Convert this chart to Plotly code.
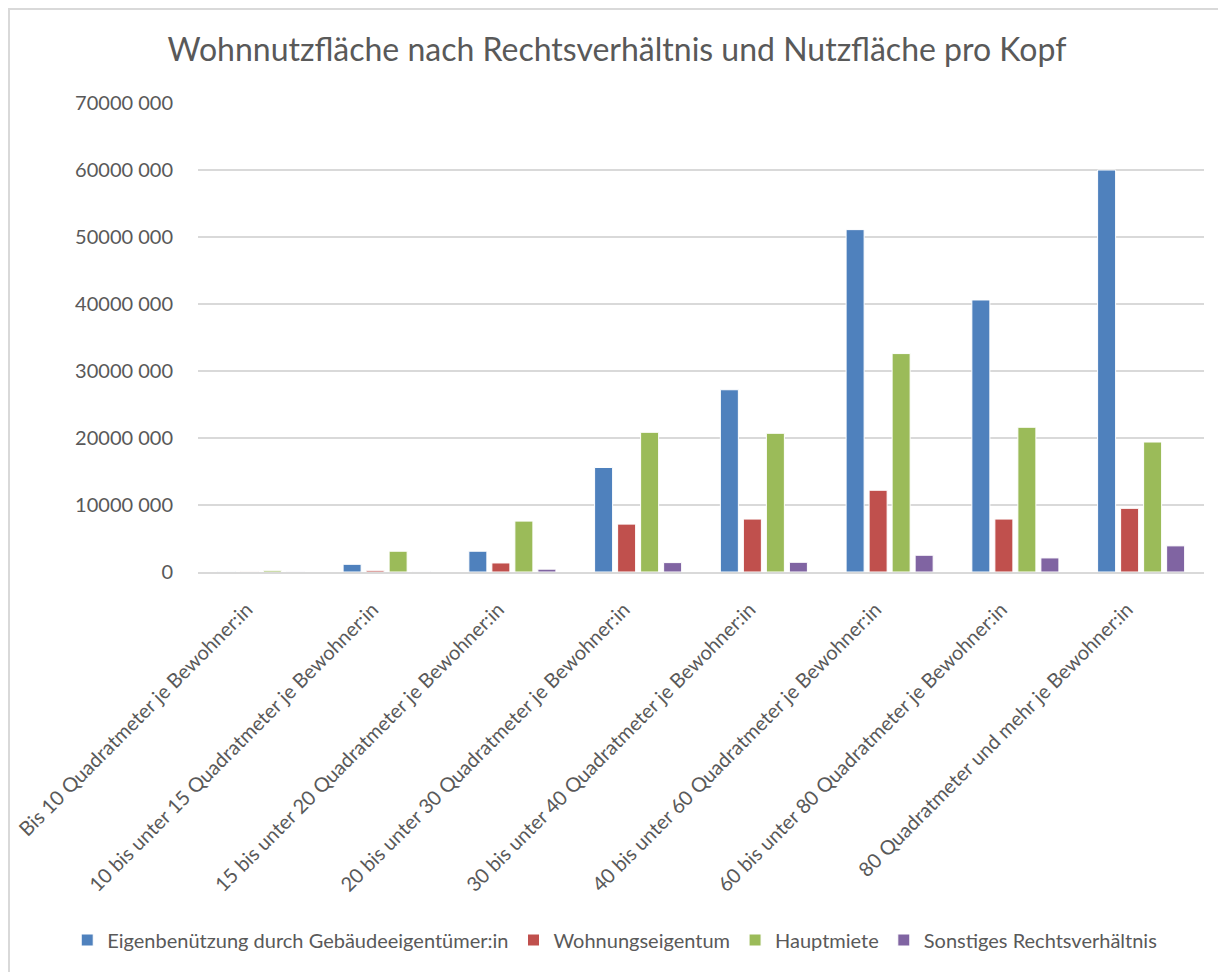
import plotly.graph_objects as go

# Kategorien (Nutzfläche pro Kopf)
categories = [
    'Bis 10 Quadratmeter je Bewohner:in',
    '10 bis unter 15 Quadratmeter je Bewohner:in',
    '15 bis unter 20 Quadratmeter je Bewohner:in',
    '20 bis unter 30 Quadratmeter je Bewohner:in',
    '30 bis unter 40 Quadratmeter je Bewohner:in',
    '40 bis unter 60 Quadratmeter je Bewohner:in',
    '60 bis unter 80 Quadratmeter je Bewohner:in',
    '80 Quadratmeter und mehr je Bewohner:in',
]

# Wohnnutzfläche in m² (aus dem Bild geschätzt)
eigenbenuetzung = [60_000, 1_150_000, 3_100_000, 15_600_000, 27_200_000, 51_100_000, 40_600_000, 60_000_000]
wohnungseigentum = [30_000, 250_000, 1_350_000, 7_150_000, 7_900_000, 12_200_000, 7_900_000, 9_500_000]
hauptmiete = [250_000, 3_100_000, 7_600_000, 20_850_000, 20_700_000, 32_600_000, 21_600_000, 19_400_000]
sonstiges = [20_000, 80_000, 420_000, 1_400_000, 1_450_000, 2_500_000, 2_100_000, 3_900_000]

series_names = [
    'Eigenbenützung durch Gebäudeeigentümer:in',
    'Wohnungseigentum',
    'Hauptmiete',
    'Sonstiges Rechtsverhältnis',
]
series_colors = ['#4F81BD', '#C0504D', '#9BBB59', '#8064A2']

tick_vals = [0, 10_000_000, 20_000_000, 30_000_000, 40_000_000, 50_000_000, 60_000_000, 70_000_000]
tick_text = ['0', '10000 000', '20000 000', '30000 000', '40000 000',
             '50000 000', '60000 000', '70000 000']

FONT = 'Lato'
GREY_TEXT = '#595959'
GRID = '#D9D9D9'

# die Seite hat 8px Rand, daher ist die Abbildung etwas kleiner als das Fenster
W, H = 1218, 964
M_L, M_R, M_T, M_B = 190, 22, 95, 400
plot_w = W - M_L - M_R
plot_h = H - M_T - M_B

fig = go.Figure()

for name, values, color in zip(series_names,
                               [eigenbenuetzung, wohnungseigentum, hauptmiete, sonstiges],
                               series_colors):
    fig.add_trace(go.Bar(
        x=categories,
        y=values,
        name=name,
        marker=dict(color=color, line=dict(color='white', width=1)),
    ))

# Rahmen um das Diagramm (nur links und oben sichtbar)
fig.add_shape(type='rect', xref='paper', yref='paper',
              x0=-(M_L - 1) / plot_w, x1=1.5,
              y0=-1.5, y1=(plot_h + M_T - 1) / plot_h,
              line=dict(color=GRID, width=2), layer='below')

fig.update_layout(
    width=W,
    height=H,
    margin=dict(l=M_L, r=M_R, t=M_T, b=M_B, autoexpand=False),
    paper_bgcolor='white',
    plot_bgcolor='white',
    font=dict(family=FONT, color=GREY_TEXT, size=20),
    title=dict(
        text='Wohnnutzfläche nach Rechtsverhältnis und Nutzfläche pro Kopf',
        x=0.5, xanchor='center',
        y=1 - 42 / H, yanchor='middle',
        font=dict(family=FONT, size=32, color=GREY_TEXT),
    ),
    barmode='group',
    bargap=0.268,
    bargroupgap=0.217,
    showlegend=True,
    legend=dict(
        orientation='h',
        x=-0.13, xanchor='left',
        y=-(940 - 8 - (M_T + plot_h)) / plot_h, yanchor='middle',
        font=dict(family=FONT, size=20, color=GREY_TEXT),
        itemwidth=30,
        traceorder='normal',
    ),
)

fig.update_xaxes(
    tickangle=-45,
    showline=True,
    linecolor=GRID,
    linewidth=2,
    ticks='',
    automargin=False,
    ticklabelshift=-14,
    ticklabelstandoff=16,
    tickfont=dict(family=FONT, size=20, color=GREY_TEXT),
)

fig.update_yaxes(
    range=[0, 70_000_000],
    tickvals=tick_vals,
    ticktext=tick_text,
    showgrid=True,
    gridcolor=GRID,
    gridwidth=2,
    zeroline=False,
    ticks='',
    automargin=False,
    ticklabelstandoff=24,
    tickfont=dict(family=FONT, size=20, color=GREY_TEXT),
)

fig.write_html("out.html")
